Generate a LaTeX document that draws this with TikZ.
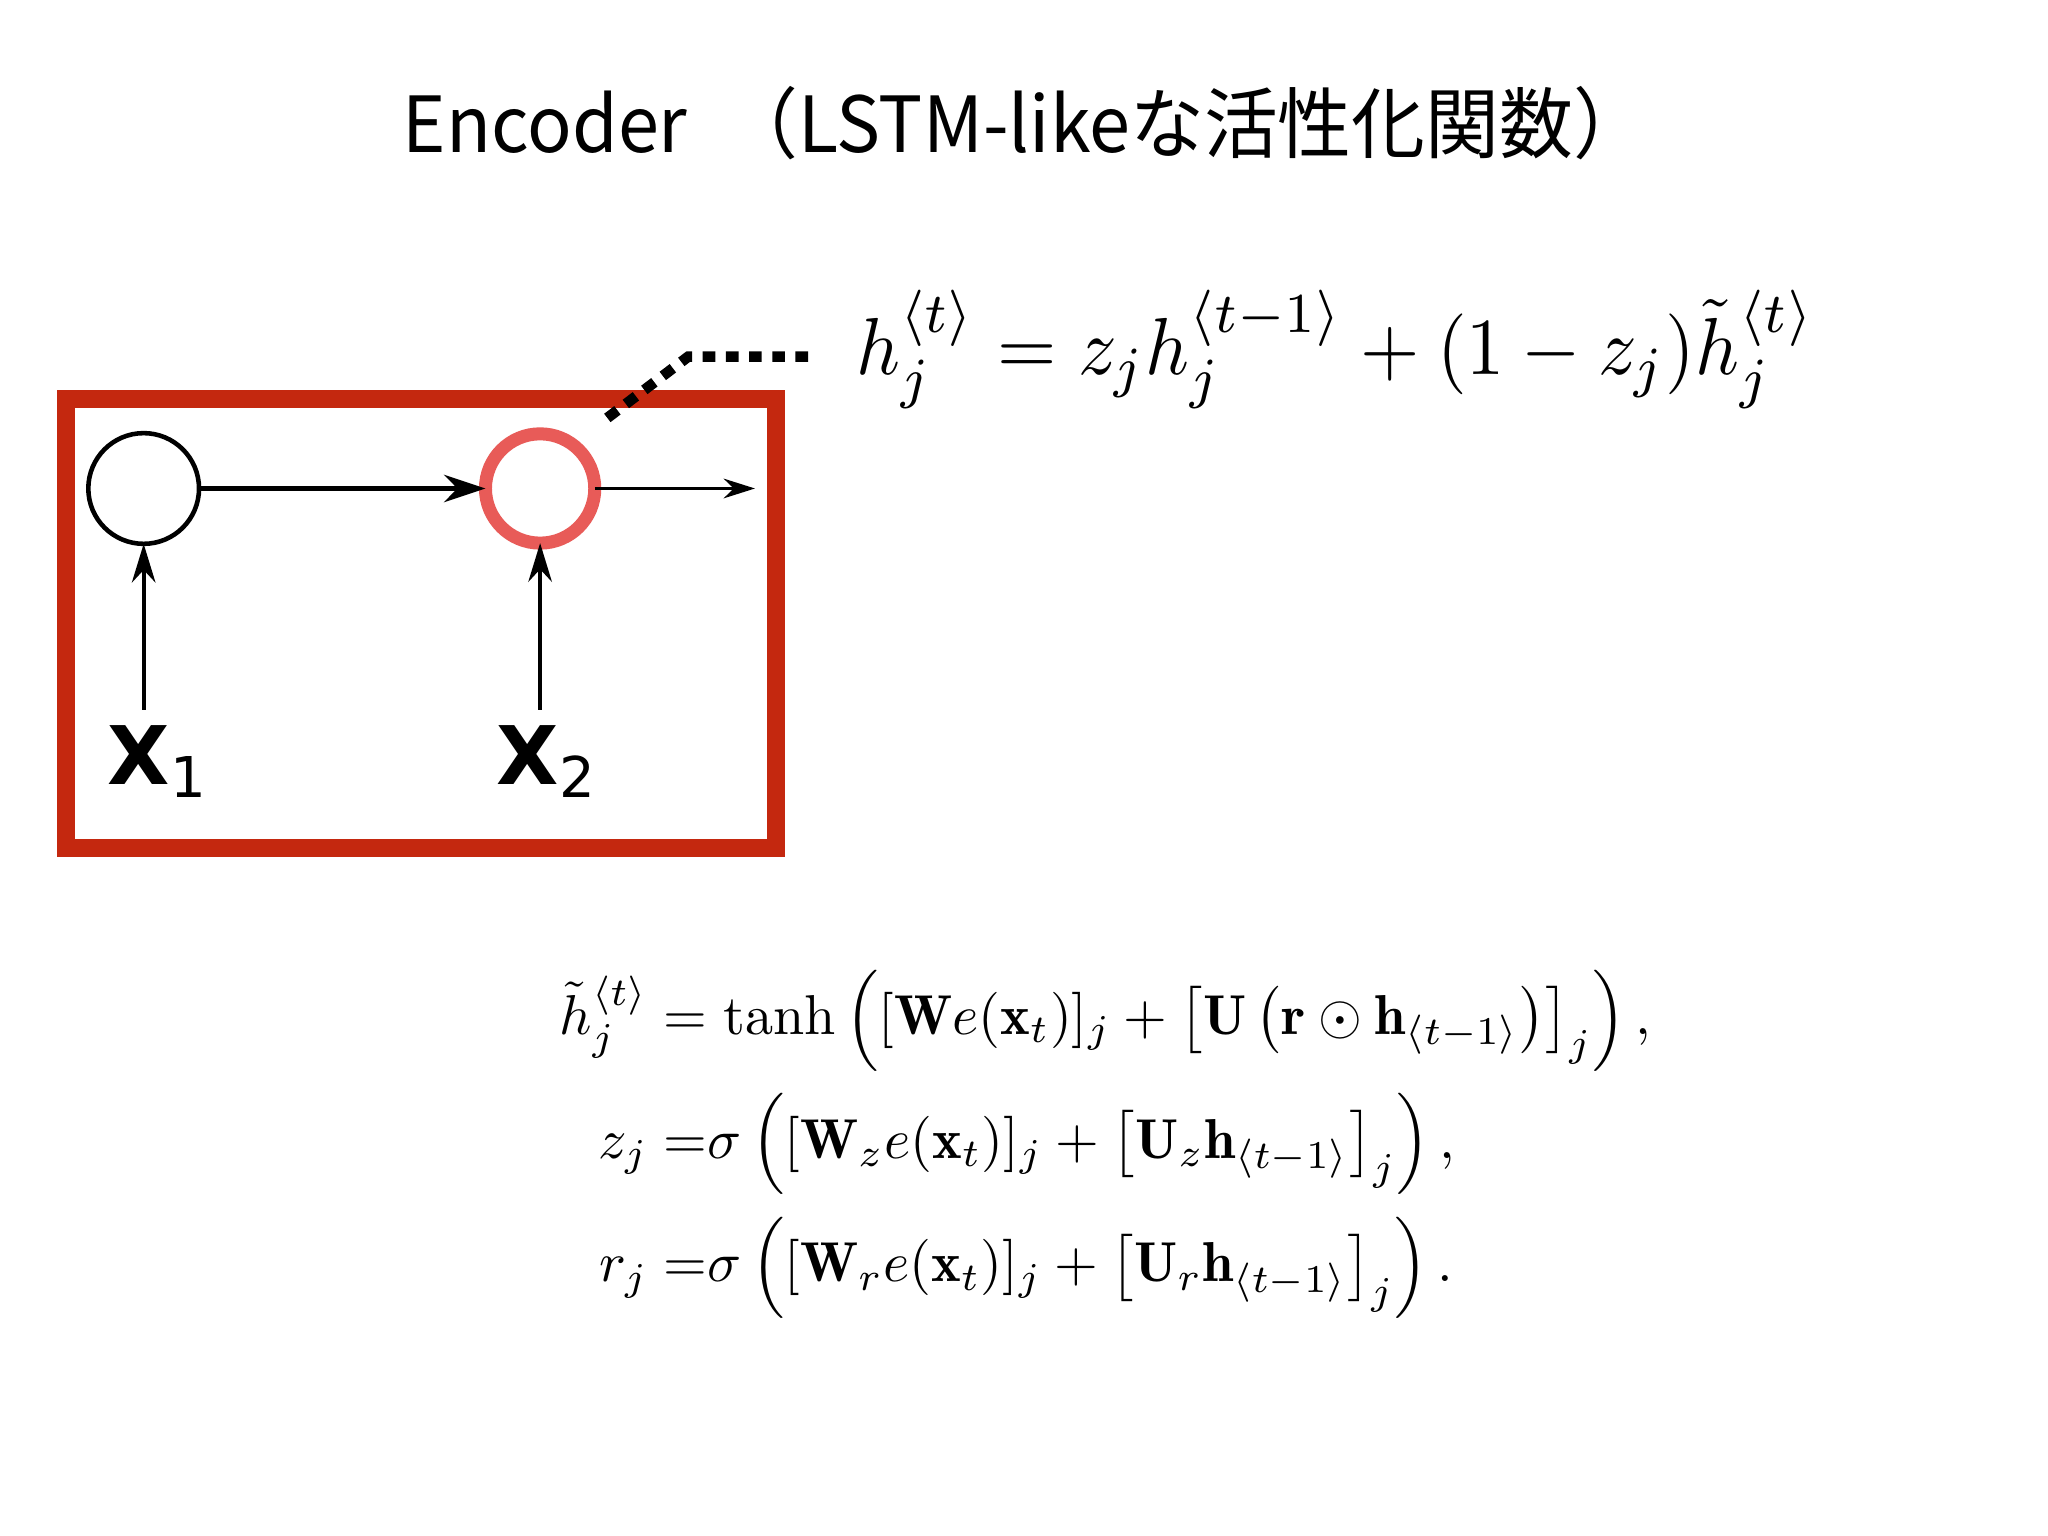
\documentclass[tikz,border=0pt]{standalone}
\usepackage{amsmath}
\usepackage{amssymb}
\usepackage{graphicx}
\usepackage{fontspec}
\newfontfamily\jpfont{Noto Sans CJK JP}
\newfontfamily\lblfont{DejaVu Sans}
\usetikzlibrary{arrows.meta,positioning,calc}
\definecolor{boxred}{HTML}{C4280F}
\definecolor{cellred}{HTML}{E85B58}
\newcommand{\xlab}[1]{\textbf{X}\raisebox{-3.5pt}{\fontsize{16}{16}\selectfont #1}}
\newcommand{\hprev}{\mathbf{h}_{\langle t-1\rangle}}

\begin{document}
\begin{tikzpicture}[x=0.01306cm,y=-0.01306cm,
  cell/.style={draw,circle,line width=1.3pt,minimum size=31.5pt,inner sep=0pt,outer sep=0pt},
  hot/.style={cell,draw=cellred,line width=3.7pt,minimum size=31.1pt},
  inp/.style={font=\lblfont\fontsize{23}{23}\selectfont,anchor=base,inner sep=4.4pt},
  fwd/.style={-{Stealth[length=11.8pt,width=7.8pt]},line width=1.3pt},
  outa/.style={-{Stealth[length=8.9pt,width=5.6pt]},line width=0.9pt},
  upa/.style={-{Stealth[length=11pt,width=6.7pt]},line width=1.1pt},
  callout/.style={line width=3pt,dash pattern=on 3.6pt off 3pt},
  eq/.style={inner sep=0pt}]
\useasboundingbox[fill=white] (0,0) rectangle (1568,1176);

\node[anchor=base west,inner sep=0pt,font=\jpfont\fontsize{22}{26}\selectfont] (title) at (308,117)
  {\scalebox{0.955}[1]{Encoder\enspace（LSTM-likeな活性化関数）}};

% the unrolled encoder, boxed in red
\draw[boxred,line width=5.07pt] (50.7,305.5) rectangle (594.2,649.2);
\node[cell] (c1) at (110,374) {};
\node[hot,right=81.5pt of c1] (c2) {};
\coordinate (nxt) at (578,374);
\node[inp] (x1) at (120,601) {\xlab{1}};
\node[inp] (x2) at (418,601) {\xlab{2}};

\draw[fwd] (c1) -- (c2);
\draw[outa] (c2) -- (nxt);
\draw[upa] (x1.north -| c1) -- (c1);
\draw[upa] (x2.north -| c2) -- (c2);

% update rule of the hidden state
\node[eq,anchor=base west] (heq) at (655,287)
  {\scalebox{2.17}[2.3]{$h_j^{\langle t\rangle} = z_j h_j^{\langle t-1\rangle} + (1-z_j)\tilde{h}_j^{\langle t\rangle}$}};
\coordinate (tail) at (465,320);
\coordinate (bend) at (527,273);
\draw[callout] (tail) -- (bend) -- (bend -| 623,0);

% gates
\node[eq,anchor=west] (gates) at (428,876) {\scalebox{1.6}{$\begin{aligned}
  \tilde{h}_j^{\langle t\rangle} &= \tanh\mathinner{\Bigl([\mathbf{W}e(\mathbf{x}_t)]_j + \bigl[\mathbf{U}\mathinner{\bigl(\mathbf{r}\odot\hprev\bigr)}\bigr]_j\Bigr)},\\
  z_j &= \mskip-\thickmuskip\sigma\mathinner{\Bigl([\mathbf{W}_z e(\mathbf{x}_t)]_j + \bigl[\mathbf{U}_z\hprev\bigr]_j\Bigr)},\\
  r_j &= \mskip-\thickmuskip\sigma\mathinner{\Bigl([\mathbf{W}_r e(\mathbf{x}_t)]_j + \bigl[\mathbf{U}_r\hprev\bigr]_j\Bigr)}.
\end{aligned}$}};
\end{tikzpicture}
\end{document}
